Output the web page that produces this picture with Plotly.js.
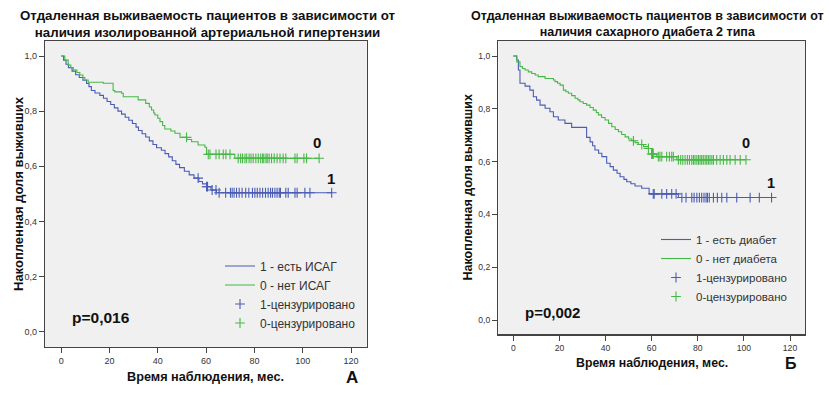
<!DOCTYPE html>
<html>
<head>
<meta charset="utf-8">
<script src="https://cdn.plot.ly/plotly-3.0.1.min.js"></script>
<style>html,body{margin:0;padding:0;background:#fff}#chart{width:829px;height:394px}</style>
</head>
<body>
<div id="chart"></div>
<script>
// ---------- Panel A: isolated arterial hypertension ----------
var isagYesT = [0, 1, 2, 3, 4.5, 6, 7.5, 9, 10.5, 11.5, 12.5, 14, 16, 17.5, 19, 20.5, 22, 23.5, 25, 26.5, 28, 29.5, 31, 32, 33.5, 35, 36.5, 38, 39.5, 41.5, 43, 44.5, 46, 47.5, 49, 51, 53, 55, 57, 58.5, 60.2, 62, 64.3, 112];
var isagYesS = [1, 0.985, 0.97, 0.958, 0.945, 0.932, 0.922, 0.912, 0.9, 0.889, 0.875, 0.866, 0.857, 0.847, 0.835, 0.824, 0.812, 0.8, 0.789, 0.778, 0.767, 0.755, 0.742, 0.73, 0.718, 0.706, 0.692, 0.679, 0.667, 0.658, 0.646, 0.634, 0.62, 0.607, 0.595, 0.582, 0.569, 0.557, 0.545, 0.536, 0.526, 0.514, 0.504, 0.504];
var isagNoT = [0, 1.5, 2.9, 4, 5, 6.5, 7.7, 9, 9.8, 11.2, 17.4, 21.5, 22.2, 25, 25.7, 31.9, 35, 36.5, 37.4, 38.3, 38.8, 40, 40.9, 42, 42.9, 45.4, 47.1, 49.2, 52, 54, 56.7, 59.5, 60.2, 71.9, 106.8];
var isagNoS = [1, 0.985, 0.967, 0.958, 0.949, 0.94, 0.931, 0.922, 0.913, 0.905, 0.901, 0.875, 0.87, 0.865, 0.852, 0.841, 0.828, 0.815, 0.804, 0.793, 0.786, 0.774, 0.762, 0.748, 0.735, 0.728, 0.72, 0.705, 0.697, 0.689, 0.677, 0.669, 0.643, 0.629, 0.629];
var isagYesCens = [56.7, 60.2, 60.6, 62.5, 64.1, 65.4, 68.1, 70.1, 70.8, 71.6, 72.6, 73.7, 74.9, 76.4, 77.7, 79.2, 80.2, 81.2, 82.3, 83.4, 84.6, 85.7, 86.7, 87.5, 88.5, 89.4, 90.3, 90.8, 93, 94, 96.8, 97.7, 100.9, 103, 112];
var isagNoCens = [51.9, 60.9, 61.6, 64.1, 65.4, 67.1, 68.2, 69.9, 73.3, 74.3, 75.1, 76.1, 76.8, 77.8, 78.6, 79.5, 80.6, 81.6, 82.6, 83.4, 83.9, 84.8, 85.3, 86.1, 87.1, 88.2, 89.4, 90.6, 91.9, 93, 96.8, 97.7, 100.5, 101.6, 106.8];

// ---------- Panel B: type 2 diabetes ----------
var dmYesT = [0, 1.5, 2.2, 2.9, 5.1, 7.2, 8.7, 10.1, 11.6, 13.8, 15.9, 17.4, 19.5, 22.4, 25.3, 31.8, 33.3, 34.4, 35.4, 37, 38.4, 40.5, 42, 43.4, 45, 46.3, 48, 49.2, 51, 52.8, 55.7, 58.9, 71.6, 112];
var dmYesS = [1, 0.985, 0.947, 0.897, 0.886, 0.871, 0.846, 0.833, 0.814, 0.802, 0.789, 0.77, 0.758, 0.745, 0.73, 0.692, 0.675, 0.66, 0.644, 0.632, 0.619, 0.594, 0.581, 0.568, 0.556, 0.543, 0.533, 0.524, 0.516, 0.508, 0.499, 0.478, 0.464, 0.464];
var dmNoT = [0, 1.5, 2.9, 4, 5.1, 6.5, 8, 9.5, 10.8, 13.8, 17.4, 18.1, 19.2, 20.3, 21.7, 22.8, 23.9, 25.3, 26.8, 28, 28.9, 30.3, 31.8, 33.3, 34.7, 36, 36.9, 38.3, 39.8, 41.3, 42.7, 44.2, 45.6, 47, 48.5, 50, 51.4, 52.8, 54.2, 56.5, 58.6, 60, 62.2, 70.9, 100.9];
var dmNoS = [1, 0.978, 0.96, 0.953, 0.947, 0.94, 0.934, 0.928, 0.922, 0.915, 0.909, 0.903, 0.897, 0.89, 0.871, 0.865, 0.859, 0.85, 0.84, 0.834, 0.827, 0.82, 0.814, 0.805, 0.795, 0.786, 0.777, 0.767, 0.758, 0.745, 0.732, 0.722, 0.713, 0.703, 0.694, 0.686, 0.679, 0.672, 0.665, 0.657, 0.65, 0.629, 0.619, 0.607, 0.607];
var dmYesCens = [60.7, 61.1, 64.4, 66.5, 68.7, 70.6, 73.1, 74.9, 77.4, 78.4, 79.6, 80.7, 81.7, 82.7, 83.6, 84.2, 85, 86.8, 88.5, 90.4, 92.6, 96.9, 102.7, 106.7, 112];
var dmNoCens = [52.1, 55.7, 58.6, 60, 60.4, 60.7, 62.9, 63.6, 64.4, 66.5, 67.7, 68.7, 69.4, 71.6, 72.6, 73.5, 74.5, 75.5, 76.4, 77.4, 78.1, 78.8, 79.6, 80.3, 81, 81.7, 82.4, 83.2, 83.9, 84.6, 85.3, 86.1, 86.8, 88.2, 89.7, 91.1, 92.6, 94, 96.2, 98.4, 100.9];

var xTicks = [0, 20, 40, 60, 80, 100, 120];
var yTicks = [0, 0.2, 0.4, 0.6, 0.8, 1.0];

var BLUE = '#4A5CB5', GREEN = '#47B847';
var FONT = 'Liberation Sans, Arial, sans-serif';

function stepAt(ts, ss, t) {
  var v = ss[0];
  for (var i = 0; i < ts.length; i++) { if (ts[i] <= t) v = ss[i]; else break; }
  return v;
}
function curve(t, s, color, name, xa, ya, lg) {
  return {x: t, y: s, type: 'scatter', mode: 'lines', line: {shape: 'hv', color: color, width: 1.1},
          name: name, xaxis: xa, yaxis: ya, legend: lg, hoverinfo: 'skip'};
}
function cens(ct, t, s, color, name, xa, ya, lg) {
  return {x: ct, y: ct.map(function (c) { return stepAt(t, s, c); }), type: 'scatter', mode: 'markers',
          marker: {symbol: 'cross-thin', size: 7, line: {color: color, width: 1.1}, color: color},
          name: name, xaxis: xa, yaxis: ya, legend: lg, hoverinfo: 'skip'};
}

var data = [
  curve(isagYesT, isagYesS, BLUE, '1 - есть ИСАГ', 'x', 'y', 'legend'),
  curve(isagNoT, isagNoS, GREEN, '0 - нет ИСАГ', 'x', 'y', 'legend'),
  cens(isagYesCens, isagYesT, isagYesS, BLUE, '1-цензурировано', 'x', 'y', 'legend'),
  cens(isagNoCens, isagNoT, isagNoS, GREEN, '0-цензурировано', 'x', 'y', 'legend'),
  curve(dmYesT, dmYesS, BLUE, '1 - есть диабет', 'x2', 'y2', 'legend2'),
  curve(dmNoT, dmNoS, GREEN, '0 - нет диабета', 'x2', 'y2', 'legend2'),
  cens(dmYesCens, dmYesT, dmYesS, BLUE, '1-цензурировано', 'x2', 'y2', 'legend2'),
  cens(dmNoCens, dmNoT, dmNoS, GREEN, '0-цензурировано', 'x2', 'y2', 'legend2')
];

function xax(dom, range, anchor, fs) {
  return {domain: dom, range: range, anchor: anchor, tickvals: xTicks, ticks: 'outside', ticklen: 5,
          tickcolor: '#444', tickwidth: 1, showline: true, linecolor: '#444', linewidth: 1.3, mirror: true,
          showgrid: false, zeroline: false, tickfont: {size: fs, color: '#333', family: FONT}};
}
function yax(dom, range, anchor, fs) {
  return {domain: dom, range: range, anchor: anchor, tickvals: yTicks, tickformat: '.1f', ticks: 'outside', ticklen: 5,
          tickcolor: '#444', tickwidth: 1, showline: true, linecolor: '#444', linewidth: 1.3, mirror: true,
          showgrid: false, zeroline: false, tickfont: {size: fs, color: '#333', family: FONT}};
}
function P(px) { return px / 829; }
function Q(py) { return (394 - py) / 394; }

var annotations = [
  {xref: 'paper', yref: 'paper', x: P(208), y: Q(24), xanchor: 'center', yanchor: 'middle', showarrow: false,
   text: '<b>Отдаленная выживаемость пациентов в зависимости от<br>наличия изолированной артериальной гипертензии</b>',
   font: {size: 13.3, color: '#111', family: FONT}},
  {xref: 'paper', yref: 'paper', x: P(647.5), y: Q(24), xanchor: 'center', yanchor: 'middle', showarrow: false,
   text: '<b>Отдаленная выживаемость пациентов в зависимости от<br>наличия сахарного диабета 2 типа</b>',
   font: {size: 12.5, color: '#111', family: FONT}},
  {xref: 'paper', yref: 'paper', x: P(18), y: Q(194), textangle: -90, showarrow: false, xanchor: 'center', yanchor: 'middle',
   text: '<b>Накопленная доля выживших</b>', font: {size: 13, color: '#111', family: FONT}},
  {xref: 'paper', yref: 'paper', x: P(468), y: Q(187.5), textangle: -90, showarrow: false, xanchor: 'center', yanchor: 'middle',
   text: '<b>Накопленная доля выживших</b>', font: {size: 12.5, color: '#111', family: FONT}},
  {xref: 'paper', yref: 'paper', x: P(205.5), y: Q(377), showarrow: false, xanchor: 'center', yanchor: 'middle',
   text: '<b>Время наблюдения, мес.</b>', font: {size: 12.7, color: '#111', family: FONT}},
  {xref: 'paper', yref: 'paper', x: P(651.5), y: Q(363.3), showarrow: false, xanchor: 'center', yanchor: 'middle',
   text: '<b>Время наблюдения, мес.</b>', font: {size: 12.3, color: '#111', family: FONT}},
  {xref: 'paper', yref: 'paper', x: P(351.7), y: Q(377), showarrow: false, xanchor: 'center', yanchor: 'middle',
   text: '<b>А</b>', font: {size: 17, color: '#111', family: FONT}},
  {xref: 'paper', yref: 'paper', x: P(790.7), y: Q(363), showarrow: false, xanchor: 'center', yanchor: 'middle',
   text: '<b>Б</b>', font: {size: 16, color: '#111', family: FONT}},
  {xref: 'x', yref: 'y', x: 16.6, y: 0.05, showarrow: false, xanchor: 'center', yanchor: 'middle',
   text: '<b>p=0,016</b>', font: {size: 15.5, color: '#111', family: FONT}},
  {xref: 'x2', yref: 'y2', x: 16.8, y: 0.028, showarrow: false, xanchor: 'center', yanchor: 'middle',
   text: '<b>p=0,002</b>', font: {size: 15, color: '#111', family: FONT}},
  {xref: 'x', yref: 'y', x: 105.8, y: 0.687, showarrow: false, xanchor: 'center', yanchor: 'middle',
   text: '<b>0</b>', font: {size: 15, color: '#111', family: FONT}},
  {xref: 'x', yref: 'y', x: 111.9, y: 0.557, showarrow: false, xanchor: 'center', yanchor: 'middle',
   text: '<b>1</b>', font: {size: 15, color: '#111', family: FONT}},
  {xref: 'x2', yref: 'y2', x: 100.8, y: 0.669, showarrow: false, xanchor: 'center', yanchor: 'middle',
   text: '<b>0</b>', font: {size: 14.5, color: '#111', family: FONT}},
  {xref: 'x2', yref: 'y2', x: 111.8, y: 0.518, showarrow: false, xanchor: 'center', yanchor: 'middle',
   text: '<b>1</b>', font: {size: 14.5, color: '#111', family: FONT}}
];

var layout = {
  width: 829, height: 394,
  margin: {l: 0, r: 0, t: 0, b: 0},
  paper_bgcolor: '#ffffff', plot_bgcolor: '#F0F0F0',
  separators: ',.',
  font: {family: FONT, color: '#333'},
  showlegend: true,
  xaxis: xax([P(45), P(366.7)], [-6.7, 126.5], 'y', 9),
  yaxis: yax([Q(347), Q(41)], [-0.0555, 1.0544], 'x', 9),
  xaxis2: xax([P(498.3), P(805)], [-6.5, 126.5], 'y2', 8.6),
  yaxis2: yax([Q(334.3), Q(41)], [-0.054, 1.057], 'x2', 8.6),
  legend: {x: P(220), y: Q(251.5), xanchor: 'left', yanchor: 'top', bgcolor: 'rgba(0,0,0,0)', traceorder: 'normal',
           font: {size: 12, color: '#333', family: FONT}, tracegroupgap: 0},
  legend2: {x: P(656), y: Q(225), xanchor: 'left', yanchor: 'top', bgcolor: 'rgba(0,0,0,0)', traceorder: 'normal',
            font: {size: 11.5, color: '#333', family: FONT}, tracegroupgap: 0},
  annotations: annotations
};

Plotly.newPlot('chart', data, layout, {staticPlot: true, displayModeBar: false});
</script>
</body>
</html>
